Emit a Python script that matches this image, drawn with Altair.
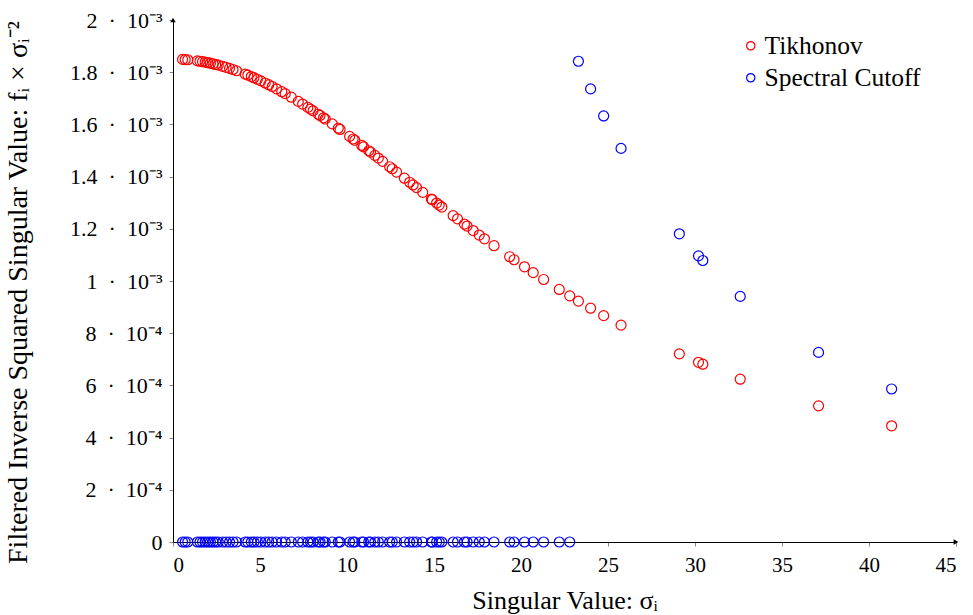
import altair as alt
import pandas as pd

# Singular values sigma_i
sigma = [0.55, 0.7, 0.85, 1.4, 1.55, 1.7, 1.85, 2.0, 2.15, 2.3, 2.45, 2.6, 2.85, 3.05, 3.25,
         3.45, 3.65, 4.15, 4.3, 4.5, 4.65, 4.85, 5.05, 5.3, 5.5, 5.7, 5.95, 6.25, 6.45, 6.8,
         7.2, 7.45, 7.75, 7.9, 8.05, 8.35, 8.45, 8.65, 8.75, 9.15, 9.5, 9.6, 10.15, 10.35,
         10.45, 10.85, 10.95, 11.25, 11.35, 11.6, 11.8, 12.05, 12.45, 12.6, 12.85, 13.3, 13.6,
         13.8, 14.0, 14.35, 14.85, 14.9, 15.15, 15.3, 15.45, 16.1, 16.35, 16.75, 16.9, 17.25,
         17.6, 17.9, 18.45, 19.35, 19.6, 20.2, 20.7, 21.3, 22.2, 22.8, 23.3, 24.0, 24.75,
         25.75, 29.1, 30.2, 30.45, 32.6, 37.1, 41.3]

# Tikhonov filtered values (units of 1e-3)
tikhonov = [1.8491, 1.8485, 1.8477, 1.8435, 1.8420, 1.8403, 1.8385, 1.8365, 1.8344, 1.8322,
            1.8298, 1.8273, 1.8227, 1.8188, 1.8147, 1.8103, 1.8056, 1.7930, 1.7890, 1.7833,
            1.7790, 1.7730, 1.7668, 1.7587, 1.7521, 1.7452, 1.7364, 1.7254, 1.7179, 1.7043,
            1.6882, 1.6779, 1.6651, 1.6586, 1.6521, 1.6388, 1.6342, 1.6252, 1.6206, 1.6020,
            1.5854, 1.5806, 1.5540, 1.5441, 1.5392, 1.5193, 1.5142, 1.4991, 1.4941, 1.4814,
            1.4711, 1.4584, 1.4378, 1.4301, 1.4172, 1.3939, 1.3784, 1.3681, 1.3578, 1.3397,
            1.3140, 1.3115, 1.2987, 1.2910, 1.2834, 1.2505, 1.2379, 1.2179, 1.2105, 1.1932,
            1.1761, 1.1616, 1.1352, 1.0930, 1.0815, 1.0543, 1.0320, 1.0058, 0.9677, 0.9431,
            0.9230, 0.8957, 0.8673, 0.8309, 0.7208, 0.6885, 0.6813, 0.6237, 0.5217, 0.4452]

# Spectral cutoff filtered values (units of 1e-3)
spectral = [0.0] * 80 + [1.8420, 1.7361, 1.6325, 1.5081, 1.1809, 1.0964, 1.0785, 0.9410,
                         0.7265, 0.5863]

series_names = ["Tikhonov", "Spectral Cutoff"]
series_colors = ["#ff0000", "#0000ff"]

rows = []
for s, t in zip(sigma, tikhonov):
    rows.append({"sigma": s, "value": t, "series": "Tikhonov", "order": 0})
for s, v in zip(sigma, spectral):
    rows.append({"sigma": s, "value": v, "series": "Spectral Cutoff", "order": 1})
df = pd.DataFrame(rows)

FONT = "Liberation Serif"

y_label_expr = ("datum.value == 0 ? '0' : (datum.value >= 0.99 ? format(datum.value, '.2~f') + '\u2002·\u200210⁻³'"
                " : format(datum.value * 10, '.2~f') + '\u2002·\u200210⁻⁴')")

points = alt.Chart(df).mark_point(filled=False, size=100, strokeWidth=1.2, opacity=1).encode(
    x=alt.X("sigma:Q", scale=alt.Scale(domain=[0, 45], nice=False),
            axis=alt.Axis(values=list(range(0, 50, 5)), title="Singular Value: σᵢ",
                          titleY=58, titleBaseline="middle", titleFontSize=26)),
    y=alt.Y("value:Q", scale=alt.Scale(domain=[0, 2], nice=False),
            axis=alt.Axis(values=[0, 0.2, 0.4, 0.6, 0.8, 1.0, 1.2, 1.4, 1.6, 1.8, 2.0],
                          labelExpr=y_label_expr, labelFontSize=22,
                          title="Filtered Inverse Squared Singular Value: fᵢ × σᵢ⁻²",
                          titleX=-155, titleY=272, titleAngle=270, titleFontSize=28,
                          titleAlign="center", titleBaseline="middle", titleLimit=800)),
    color=alt.Color("series:N", scale=alt.Scale(domain=series_names, range=series_colors),
                    legend=alt.Legend(title=None, orient="none", legendX=565, legendY=13,
                                      labelFont=FONT, labelFontSize=25.5, labelLimit=400,
                                      symbolType="circle",
                                      symbolSize=70, symbolStrokeWidth=1.2, rowPadding=5,
                                      labelOffset=1, symbolFillColor="transparent")),
    order=alt.Order("order:Q"),
)

arrow_right = alt.Chart(pd.DataFrame({"x": [45], "y": [0]})).mark_point(
    shape="triangle-right", filled=True, color="black", size=30, opacity=1).encode(
    x="x:Q", y="y:Q")
arrow_up = alt.Chart(pd.DataFrame({"x": [0], "y": [2]})).mark_point(
    shape="triangle-up", filled=True, color="black", size=30, opacity=1).encode(
    x="x:Q", y="y:Q")

chart = alt.layer(points, arrow_right, arrow_up).properties(
    width=783, height=522,
    autosize=alt.AutoSizeParams(type="none"),
    padding={"left": 173, "top": 20, "right": 17, "bottom": 73},
).configure_view(stroke=None).configure_axis(
    grid=False, domainColor="black", domainWidth=1, tickColor="#888888", tickSize=4,
    labelFont=FONT, labelFontSize=21, labelColor="black", titleFont=FONT,
    titleFontWeight="normal", titleColor="black", labelPadding=8,
).configure_axisY(labelPadding=7)

chart.save("out.html", embed_options={"renderer": "svg", "actions": False})
